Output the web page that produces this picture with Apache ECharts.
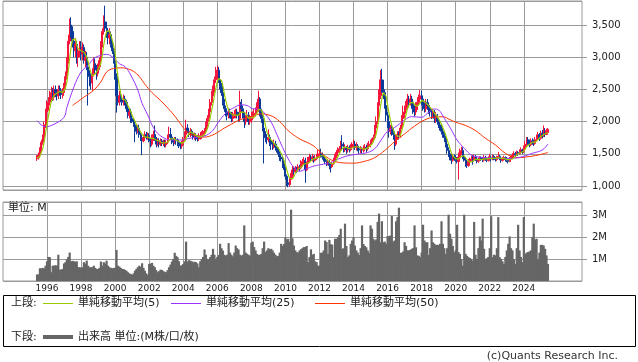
<!DOCTYPE html>
<html><head><meta charset="utf-8">
<script src="https://cdn.jsdelivr.net/npm/echarts@6/dist/echarts.min.js"></script>
<style>html,body{margin:0;padding:0;background:#fff}#c{width:638px;height:362px}</style>
</head><body><div id="c"></div>
<script>
// ---- axis / tick labels ----
const yearTicks = ['1996','1998','2000','2002','2004','2006','2008','2010','2012','2014','2016','2018','2020','2022','2024'];
const axisFirstMonth = [1993, 6];   // left edge of plot
const axisLastMonth  = [2027, 6];   // right edge of plot
const dataFirstMonth = '1995/06';

// ---- monthly prices (1995/06 .. 2025/06) ----
const opens = [
 1420,1440,1480,1560,1680,1750,1950,
 2150,2250,2300,2400,2450,2380,2500,2450,2400,2500,2480,2420,
 2450,2550,2700,2950,3250,3500,3400,3250,3100,3200,3000,3100,
 3150,3050,3150,2950,3000,2850,2700,2650,2600,2750,2900,2800,
 2750,2850,2950,3200,3400,3550,3450,3400,3300,3350,3200,3100,
 2950,2700,2400,2300,2400,2350,2300,2350,2300,2200,2100,2150,
 2050,2000,1950,1900,1850,1900,1800,1750,1700,1750,1800,1760,
 1780,1700,1650,1750,1800,1720,1650,1700,1650,1700,1660,1680,
 1640,1680,1760,1800,1760,1700,1680,1720,1700,1680,1650,1620,
 1640,1720,1800,1900,1850,1800,1850,1820,1760,1780,1750,1730,
 1770,1780,1800,1820,1850,1950,2050,2150,2300,2400,2500,2650,
 2750,2800,2650,2550,2450,2300,2200,2150,2100,2150,2100,2050,
 2100,2120,2150,2100,2050,2300,2200,2100,2000,2050,2100,2000,
 2050,2080,2100,2130,2150,2200,2350,2150,2050,1900,1800,1750,
 1720,1750,1700,1650,1620,1650,1600,1580,1500,1450,1420,1350,
 1300,1150,1050,1020,1100,1150,1250,1220,1280,1250,1300,1280,
 1350,1380,1400,1250,1350,1400,1450,1420,1450,1400,1430,1460,
 1480,1500,1480,1450,1420,1380,1350,1380,1320,1300,1350,1400,
 1470,1520,1550,1580,1650,1620,1580,1600,1560,1600,1570,1600,
 1620,1650,1600,1620,1580,1560,1580,1560,1590,1600,1580,1620,
 1650,1680,1700,1750,1900,2000,2250,2400,2650,2500,2450,2250,
 2100,2000,1850,1900,1850,1800,1650,1750,1800,1780,1900,2050,
 2150,2180,2250,2350,2300,2350,2300,2200,2150,2250,2300,2350,
 2400,2350,2250,2200,2300,2250,2200,2150,2100,2150,2050,2100,
 2000,1950,1900,1850,1800,1750,1650,1550,1500,1450,1400,1450,
 1420,1400,1380,1450,1500,1550,1450,1400,1350,1320,1380,1400,
 1420,1400,1450,1420,1380,1400,1430,1420,1400,1440,1420,1400,
 1430,1440,1420,1460,1430,1410,1440,1460,1430,1400,1420,1440,
 1410,1400,1380,1420,1440,1480,1500,1480,1520,1500,1540,1560,
 1530,1580,1650,1720,1680,1640,1700,1680,1660,1720,1760,1800,
 1740,1820,1780,1850,1800,1830
];
const closes = [
 1440,1480,1560,1680,1750,1950,2150,
 2250,2300,2400,2450,2380,2500,2450,2400,2500,2480,2420,2450,
 2550,2700,2950,3250,3500,3400,3250,3100,3200,3000,3100,3150,
 3050,3150,2950,3000,2850,2700,2650,2600,2750,2900,2800,2750,
 2850,2950,3200,3400,3550,3450,3400,3300,3350,3200,3100,2950,
 2700,2400,2300,2400,2350,2300,2350,2300,2200,2100,2150,2050,
 2000,1950,1900,1850,1900,1800,1750,1700,1750,1800,1760,1780,
 1700,1650,1750,1800,1720,1650,1700,1650,1700,1660,1680,1640,
 1680,1760,1800,1760,1700,1680,1720,1700,1680,1650,1620,1640,
 1720,1800,1900,1850,1800,1850,1820,1760,1780,1750,1730,1770,
 1780,1800,1820,1850,1950,2050,2150,2300,2400,2500,2650,2750,
 2800,2650,2550,2450,2300,2200,2150,2100,2150,2100,2050,2100,
 2120,2150,2100,2050,2300,2200,2100,2000,2050,2100,2000,2050,
 2080,2100,2130,2150,2200,2350,2150,2050,1900,1800,1750,1720,
 1750,1700,1650,1620,1650,1600,1580,1500,1450,1420,1350,1300,
 1150,1050,1020,1100,1150,1250,1220,1280,1250,1300,1280,1350,
 1380,1400,1250,1350,1400,1450,1420,1450,1400,1430,1460,1480,
 1500,1480,1450,1420,1380,1350,1380,1320,1300,1350,1400,1470,
 1520,1550,1580,1650,1620,1580,1600,1560,1600,1570,1600,1620,
 1650,1600,1620,1580,1560,1580,1560,1590,1600,1580,1620,1650,
 1680,1700,1750,1900,2000,2250,2400,2650,2500,2450,2250,2100,
 2000,1850,1900,1850,1800,1650,1750,1800,1780,1900,2050,2150,
 2180,2250,2350,2300,2350,2300,2200,2150,2250,2300,2350,2400,
 2350,2250,2200,2300,2250,2200,2150,2100,2150,2050,2100,2000,
 1950,1900,1850,1800,1750,1650,1550,1500,1450,1400,1450,1420,
 1400,1380,1450,1500,1550,1450,1400,1350,1320,1380,1400,1420,
 1400,1450,1420,1380,1400,1430,1420,1400,1440,1420,1400,1430,
 1440,1420,1460,1430,1410,1440,1460,1430,1400,1420,1440,1410,
 1400,1380,1420,1440,1480,1500,1480,1520,1500,1540,1560,1530,
 1580,1650,1720,1680,1640,1700,1680,1660,1720,1760,1800,1740,
 1820,1780,1850,1800,1860,1880
];
const lows = [
 1390,1410,1450,1530,1640,1720,1900,
 2100,2170,2250,2330,2320,2330,2380,2330,2350,2400,2350,2360,
 2400,2500,2650,2900,3200,3300,3150,3000,3000,2900,2850,3000,
 2950,2950,2900,2850,2800,2250,2550,2500,2480,2700,2750,2650,
 2700,2800,2900,3150,3350,3400,3300,3200,3200,3150,3050,2900,
 2650,2140,2250,2250,2300,2250,2250,2250,2150,2050,2050,1980,
 1980,1920,1680,1800,1820,1750,1700,1480,1680,1720,1720,1720,
 1680,1600,1620,1700,1700,1600,1620,1600,1620,1620,1620,1600,
 1600,1650,1740,1720,1650,1620,1650,1640,1620,1590,1570,1580,
 1620,1700,1780,1820,1760,1760,1780,1720,1720,1700,1690,1700,
 1720,1730,1760,1780,1820,1900,2000,2100,2250,2350,2450,2600,
 2650,2600,2500,2400,2250,2150,2080,2020,2050,2050,1990,2000,
 2050,2050,2050,2000,2000,2150,2050,1900,1950,2000,1950,1950,
 1980,2020,2050,2080,2120,2150,2080,1980,1850,1350,1680,1650,
 1680,1620,1560,1560,1580,1550,1520,1450,1390,1380,1280,1250,
 1100,1000,980,990,1080,1120,1180,1200,1200,1220,1230,1260,
 1300,1340,1050,1230,1320,1370,1380,1380,1360,1380,1400,1420,
 1440,1440,1410,1380,1340,1310,1320,1260,1210,1280,1330,1390,
 1430,1480,1510,1540,1560,1520,1530,1500,1520,1520,1540,1560,
 1580,1560,1550,1540,1500,1510,1510,1520,1540,1520,1550,1590,
 1600,1640,1680,1720,1850,1960,2200,2350,2450,2350,2200,2000,
 1900,1750,1800,1780,1720,1560,1620,1720,1720,1750,1880,2000,
 2050,2120,2200,2220,2250,2200,2120,2080,2100,2180,2250,2300,
 2250,2170,2140,2150,2180,2120,2080,2040,2050,1980,1980,1950,
 1900,1860,1800,1750,1680,1600,1500,1450,1400,1340,1380,1390,
 1380,1350,1100,1420,1480,1420,1380,1300,1280,1300,1360,1380,
 1330,1380,1390,1350,1360,1380,1390,1370,1380,1390,1370,1380,
 1390,1380,1400,1400,1380,1390,1420,1400,1360,1380,1400,1380,
 1370,1350,1370,1400,1420,1460,1450,1470,1470,1490,1520,1500,
 1510,1550,1620,1640,1600,1620,1640,1620,1640,1700,1740,1700,
 1720,1740,1760,1760,1790,1810
];
const highs = [
 1480,1520,1600,1720,1800,2000,2200,
 2330,2380,2480,2540,2520,2560,2560,2500,2560,2560,2520,2520,
 2600,2780,3000,3350,3600,3620,3480,3300,3300,3250,3180,3250,
 3250,3230,3200,3100,3080,2900,2800,2750,2830,3000,2980,2880,
 2900,3000,3250,3450,3650,3800,3550,3450,3450,3400,3250,3150,
 3000,2750,2480,2480,2480,2400,2420,2400,2340,2250,2200,2200,
 2150,2050,2000,1950,1950,1950,1830,1800,1800,1850,1840,1830,
 1820,1750,1800,1860,1940,1760,1740,1740,1740,1730,1720,1720,
 1720,1800,1920,1900,1800,1740,1760,1760,1740,1720,1680,1700,
 1760,1850,2030,1960,1900,1900,1880,1840,1830,1820,1790,1820,
 1840,1850,1870,1900,2000,2100,2200,2350,2480,2560,2700,2850,
 2870,2850,2700,2600,2500,2350,2250,2200,2200,2200,2150,2150,
 2180,2200,2200,2150,2480,2350,2250,2150,2100,2180,2150,2100,
 2150,2160,2200,2220,2300,2480,2380,2200,2100,1950,1850,1800,
 1880,1800,1750,1700,1720,1700,1650,1600,1540,1500,1450,1400,
 1320,1180,1100,1130,1200,1310,1290,1310,1300,1340,1330,1400,
 1420,1450,1440,1380,1450,1500,1480,1500,1470,1480,1500,1560,
 1560,1580,1520,1480,1440,1400,1420,1400,1350,1380,1440,1500,
 1560,1600,1620,1700,1790,1680,1650,1620,1640,1630,1650,1680,
 1720,1700,1680,1650,1620,1620,1600,1630,1650,1640,1670,1700,
 1720,1740,1800,1950,2080,2300,2500,2800,2820,2650,2500,2300,
 2150,2050,1950,1950,1900,1850,1800,1850,1850,1950,2100,2250,
 2250,2320,2430,2400,2430,2400,2350,2250,2300,2380,2420,2490,
 2480,2400,2300,2350,2350,2300,2250,2200,2200,2180,2150,2120,
 2050,2000,1950,1900,1850,1780,1700,1600,1530,1500,1500,1490,
 1480,1450,1520,1580,1610,1600,1490,1450,1400,1420,1440,1470,
 1480,1490,1480,1440,1440,1460,1460,1440,1480,1470,1440,1460,
 1500,1470,1490,1480,1450,1470,1530,1480,1450,1450,1470,1460,
 1450,1430,1450,1470,1510,1540,1530,1550,1540,1570,1600,1580,
 1630,1700,1760,1760,1720,1740,1740,1720,1760,1800,1840,1820,
 1860,1870,1940,1900,1890,1900
];
// ---- moving averages ----
const ma5 = [
 1430,1440,1460,1520,1580,1680,1820,
 1960,2080,2210,2310,2360,2410,2440,2440,2450,2470,2450,2450,
 2480,2520,2610,2780,2990,3160,3270,3300,3290,3190,3130,3110,
 3100,3090,3080,3060,3000,2930,2830,2760,2710,2720,2740,2760,
 2810,2850,2910,3030,3190,3310,3400,3420,3410,3340,3270,3180,
 3060,2870,2690,2550,2430,2350,2340,2340,2300,2250,2220,2160,
 2100,2050,2010,1950,1920,1880,1840,1800,1780,1760,1750,1760,
 1760,1740,1730,1740,1720,1710,1720,1700,1680,1670,1680,1670,
 1670,1680,1710,1730,1740,1740,1730,1710,1700,1690,1670,1660,
 1660,1690,1740,1780,1810,1840,1840,1820,1800,1790,1770,1760,
 1760,1770,1780,1800,1840,1890,1960,2060,2170,2280,2400,2520,
 2620,2670,2680,2640,2550,2430,2330,2240,2180,2140,2110,2100,
 2100,2100,2100,2100,2140,2160,2150,2130,2130,2090,2050,2040,
 2060,2070,2070,2100,2130,2190,2200,2180,2130,2050,1930,1840,
 1780,1740,1710,1690,1670,1640,1620,1590,1560,1510,1460,1400,
 1330,1250,1170,1120,1090,1110,1150,1200,1230,1260,1270,1290,
 1310,1340,1330,1350,1360,1370,1370,1410,1420,1430,1430,1440,
 1450,1470,1470,1470,1450,1420,1400,1370,1350,1340,1350,1370,
 1410,1460,1500,1550,1580,1600,1610,1600,1590,1580,1590,1590,
 1610,1610,1620,1610,1600,1590,1580,1570,1580,1580,1590,1610,
 1630,1650,1680,1740,1810,1920,2060,2240,2360,2450,2450,2390,
 2260,2130,2020,1940,1880,1810,1790,1770,1760,1780,1860,1940,
 2010,2110,2200,2250,2290,2310,2300,2260,2250,2240,2250,2290,
 2330,2330,2310,2300,2270,2240,2220,2200,2170,2130,2110,2080,
 2050,2000,1960,1900,1850,1790,1720,1650,1580,1510,1470,1440,
 1420,1410,1420,1430,1460,1470,1470,1450,1410,1380,1370,1370,
 1380,1410,1420,1410,1410,1420,1410,1410,1420,1420,1420,1420,
 1430,1420,1430,1440,1430,1430,1440,1430,1430,1430,1430,1420,
 1410,1410,1410,1410,1420,1440,1460,1480,1500,1510,1520,1530,
 1540,1570,1610,1630,1650,1680,1680,1670,1680,1700,1720,1740,
 1770,1780,1800,1800,1820,1830
];
const ma25 = [
 ['1995/06',2015],['1995/12',1920],['1996/06',1960],['1997/01',2068],['1997/03',2220],['1997/08',2540],
 ['1998/01',2771],['1998/06',2875],['1998/10',2980],['1999/03',3030],['1999/07',3045],['1999/11',3005],
 ['2000/04',2900],['2000/08',2853],['2000/12',2724],['2001/05',2490],['2001/08',2284],['2001/12',2103],
 ['2002/03',1947],['2002/07',1818],['2002/12',1740],['2003/05',1714],['2004/01',1714],['2004/05',1740],
 ['2004/10',1756],['2005/04',1776],['2005/09',1843],['2005/11',1896],['2006/03',2030],['2006/08',2150],
 ['2007/01',2220],['2007/06',2260],['2007/10',2250],['2008/02',2200],['2008/07',2190],['2008/11',2110],
 ['2009/03',1990],['2009/07',1800],['2009/11',1600],['2010/03',1420],['2010/07',1290],['2010/11',1230],
 ['2011/03',1260],['2011/09',1310],['2012/04',1340],['2012/09',1365],['2013/02',1417],['2013/09',1469],
 ['2014/04',1495],['2014/11',1521],['2015/04',1580],['2015/08',1700],['2016/01',1850],['2016/06',1910],
 ['2017/01',2025],['2017/06',2077],['2018/01',2067],['2018/05',2129],['2018/10',2196],['2019/01',2180],
 ['2019/05',2051],['2019/10',1870],['2020/02',1714],['2020/07',1585],['2020/12',1481],['2021/04',1455],
 ['2021/09',1440],['2022/07',1430],['2023/04',1430],['2023/12',1455],['2024/07',1508],['2025/02',1559],
 ['2025/06',1650]
];
const ma50 = [
 ['1997/07',2250],['1998/03',2380],['1998/10',2490],['1999/03',2620],['1999/07',2770],['1999/12',2825],
 ['2000/05',2835],['2000/09',2825],['2001/02',2780],['2001/06',2700],['2001/10',2580],['2002/03',2450],
 ['2002/08',2350],['2002/12',2260],['2003/05',2140],['2003/10',2000],['2004/02',1880],['2004/06',1810],
 ['2004/11',1770],['2005/04',1760],['2005/09',1785],['2006/01',1830],['2006/06',1900],['2006/11',1960],
 ['2007/04',2020],['2007/10',2060],['2008/03',2095],['2008/08',2120],['2008/12',2110],['2009/05',2068],
 ['2009/10',1980],['2010/02',1880],['2010/07',1790],['2010/12',1720],['2011/04',1680],['2011/09',1620],
 ['2012/01',1540],['2012/06',1450],['2012/11',1390],['2013/05',1360],['2014/01',1355],['2014/09',1385],
 ['2015/03',1430],['2015/08',1500],['2016/01',1590],['2016/06',1690],['2017/01',1810],['2017/08',1930],
 ['2018/03',2025],['2018/10',2070],['2019/04',2075],['2019/09',2030],['2020/01',1990],['2020/08',1940],
 ['2021/03',1860],['2021/10',1740],['2022/05',1637],['2022/12',1508],['2023/05',1455],['2023/09',1440],
 ['2024/04',1455],['2024/11',1481],['2025/06',1520]
];
// ---- monthly volume, millions ----
const volumes = [
 0.30,0.30,0.58,0.58,0.60,0.58,0.70,
 0.90,1.10,1.09,0.40,0.70,0.70,0.72,0.70,1.20,0.52,0.52,0.55,
 0.80,0.86,1.00,1.10,1.30,0.90,0.92,0.90,0.88,0.90,0.63,0.63,
 0.60,0.63,0.86,0.80,0.93,0.70,0.63,0.63,0.63,0.70,0.60,0.55,
 0.55,0.60,0.89,0.70,0.86,0.80,0.93,0.70,0.63,0.60,0.58,0.60,
 0.60,1.42,0.70,0.66,0.60,0.55,0.55,0.50,0.47,0.40,0.35,0.32,
 0.28,0.35,0.47,0.55,0.63,0.70,0.65,0.81,0.60,0.47,0.35,0.28,
 0.78,0.80,0.83,0.70,0.63,0.50,0.40,0.45,0.52,0.50,0.45,0.42,
 0.40,0.50,0.63,0.75,0.89,1.00,1.29,1.15,1.09,0.90,0.70,0.72,
 0.78,0.90,1.80,0.89,0.95,0.93,0.90,0.86,0.88,0.86,0.80,0.63,
 0.90,1.00,1.10,1.44,1.20,1.01,1.00,1.09,1.20,1.47,1.20,1.01,
 1.10,1.19,1.70,1.50,1.39,1.20,1.16,1.20,1.73,1.30,1.20,1.13,
 1.30,1.62,1.50,1.44,1.20,1.16,1.20,2.54,1.30,1.24,1.20,1.16,
 1.75,1.80,1.55,1.40,1.24,1.19,1.20,1.24,1.50,1.80,1.32,1.40,
 1.50,1.45,1.47,1.40,1.29,1.20,1.13,1.15,1.30,1.70,1.60,1.69,
 2.00,1.90,1.93,1.80,3.26,1.95,1.62,1.40,1.32,1.30,1.40,1.45,
 1.50,1.55,1.55,1.60,0.86,1.10,1.45,1.20,1.24,0.90,0.86,0.70,
 0.70,1.29,1.30,1.40,1.85,1.78,1.24,1.88,1.68,1.66,1.09,1.93,
 1.93,2.00,2.10,2.39,1.47,1.50,2.62,1.60,1.09,1.17,1.70,1.85,
 2.00,1.62,1.40,1.30,1.19,1.50,2.54,1.69,1.60,1.54,1.40,1.29,
 2.54,2.39,1.93,1.85,1.90,2.70,3.08,1.77,2.73,1.77,1.80,1.70,
 2.05,2.05,2.08,2.97,1.80,1.85,2.73,2.92,3.35,1.29,1.29,1.35,
 1.77,1.60,1.40,1.40,1.42,1.47,1.50,2.54,1.54,1.17,1.15,1.09,
 1.30,2.57,1.85,1.77,1.77,1.19,1.50,2.31,1.77,1.70,1.65,1.65,
 1.65,1.70,2.73,1.70,1.50,1.24,1.50,3.03,2.16,1.93,1.60,1.32,
 1.40,2.57,1.32,1.24,1.00,0.70,3.03,1.24,1.15,1.09,1.05,1.01,
 0.93,2.70,1.20,1.01,1.50,2.04,1.85,2.85,1.47,1.01,1.04,1.10,
 1.50,2.96,1.09,1.20,1.17,1.50,2.92,1.09,1.01,0.90,0.78,1.10,
 1.40,1.70,2.04,1.50,1.40,1.00,0.78,1.50,2.57,1.40,1.10,0.86,
 2.92,1.24,1.30,1.32,1.35,1.40,2.00,2.62,1.90,1.93,1.01,1.30,
 1.65,1.65,1.62,1.47,1.17,0.78
];

// ---- build monthly category axis ----
const months = [];
{
  let y = axisFirstMonth[0], m = axisFirstMonth[1];
  while (y < axisLastMonth[0] || (y === axisLastMonth[0] && m <= axisLastMonth[1])) {
    months.push(y + '/' + String(m).padStart(2, '0'));
    m++; if (m > 12) { m = 1; y++; }
  }
}
const off = months.indexOf(dataFirstMonth);
const pick = (arr) => months.map((_, i) => {
  const k = i - off;
  return (k >= 0 && k < arr.length) ? arr[k] : '-';
});
const candleData = months.map((_, i) => {
  const k = i - off;
  if (k < 0 || k >= closes.length) return ['-', '-', '-', '-'];
  return [opens[k], closes[k], lows[k], highs[k]];
});
const volData = pick(volumes);
const ma5Data = pick(ma5);

const isYearTick = (i, v) => v.slice(5) === '01' && yearTicks.indexOf(v.slice(0, 4)) >= 0;

const FONT = '"DejaVu Sans","Noto Sans CJK JP",sans-serif';
const GRID = '#9a9a9a';
const UP = '#f5143c', DOWN = '#0c3a9a';

const chart = echarts.init(document.getElementById('c'), null, { renderer: 'canvas' });
chart.setOption({
  animation: false,
  backgroundColor: '#fff',
  grid: [
    { left: 3, width: 579, top: 1, height: 189, show: true, borderColor: GRID, borderWidth: 1 },
    { left: 3, width: 579, top: 202, height: 79, show: true, borderColor: GRID, borderWidth: 1 }
  ],
  xAxis: [
    { type: 'category', gridIndex: 0, data: months, boundaryGap: false,
      axisLine: { show: false }, axisTick: { show: false }, axisLabel: { show: false },
      splitLine: { show: true, interval: isYearTick, lineStyle: { color: GRID, width: 1 } } },
    { type: 'category', gridIndex: 1, data: months, boundaryGap: false,
      axisLine: { show: false }, axisTick: { show: false },
      axisLabel: { show: true, interval: isYearTick, formatter: v => v.slice(0, 4),
        fontFamily: FONT, fontSize: 9, color: '#222', margin: 3 },
      splitLine: { show: true, interval: isYearTick, lineStyle: { color: GRID, width: 1 } } }
  ],
  yAxis: [
    { type: 'value', gridIndex: 0, position: 'right', min: 938, max: 3873, splitNumber: 6,
      axisLine: { show: false },
      axisTick: { show: true, length: 5, lineStyle: { color: GRID } },
      axisLabel: { showMinLabel: false, showMaxLabel: false, margin: 10,
        formatter: v => Number(v).toLocaleString('en-US'), fontFamily: FONT, fontSize: 10, color: '#222' },
      splitLine: { show: true, lineStyle: { color: GRID, width: 1 } } },
    { type: 'value', gridIndex: 1, position: 'right', min: 0, max: 3.61, splitNumber: 4,
      axisLine: { show: false },
      axisTick: { show: true, length: 5, lineStyle: { color: GRID } },
      axisLabel: { showMinLabel: false, showMaxLabel: false, margin: 10,
        formatter: v => v + 'M', fontFamily: FONT, fontSize: 10, color: '#222' },
      splitLine: { show: true, lineStyle: { color: GRID, width: 1 } } }
  ],
  series: [
    { type: 'candlestick', name: 'price', xAxisIndex: 0, yAxisIndex: 0, data: candleData,
      barWidth: 1.6,
      itemStyle: { color: UP, color0: DOWN, borderColor: UP, borderColor0: DOWN, borderWidth: 1 } },
    { type: 'line', name: '単純移動平均(50)', xAxisIndex: 0, yAxisIndex: 0, data: ma50, symbol: 'none',
      smooth: 0.4, lineStyle: { color: '#ff3300', width: 1 }, z: 3 },
    { type: 'line', name: '単純移動平均(25)', xAxisIndex: 0, yAxisIndex: 0, data: ma25, symbol: 'none',
      smooth: 0.4, lineStyle: { color: '#9933ff', width: 1 }, z: 3 },
    { type: 'line', name: '単純移動平均(5)', xAxisIndex: 0, yAxisIndex: 0, data: ma5Data, symbol: 'none',
      lineStyle: { color: '#99cc00', width: 1.2 }, z: 4 },
    { type: 'bar', name: '出来高', xAxisIndex: 1, yAxisIndex: 1, data: volData,
      barWidth: 2.2, itemStyle: { color: '#666666' } }
  ],
  graphic: [
    { type: 'text', x: 8, y: 208, style: { text: '単位: M', font: '11px ' + FONT, fill: '#222', verticalAlign: 'middle' } },
    { type: 'rect', shape: { x: 3.5, y: 295.5, width: 632, height: 51 }, style: { fill: 'none', stroke: '#000', lineWidth: 1 } },
    { type: 'text', x: 11, y: 303, style: { text: '上段:', font: '11px ' + FONT, fill: '#222', verticalAlign: 'middle' } },
    { type: 'line', shape: { x1: 43, y1: 303.5, x2: 73, y2: 303.5 }, style: { stroke: '#99cc00', lineWidth: 1 } },
    { type: 'text', x: 78, y: 303, style: { text: '単純移動平均(5)', font: '11px ' + FONT, fill: '#222', verticalAlign: 'middle' } },
    { type: 'line', shape: { x1: 171, y1: 303.5, x2: 201, y2: 303.5 }, style: { stroke: '#9933ff', lineWidth: 1 } },
    { type: 'text', x: 206, y: 303, style: { text: '単純移動平均(25)', font: '11px ' + FONT, fill: '#222', verticalAlign: 'middle' } },
    { type: 'line', shape: { x1: 315, y1: 303.5, x2: 345, y2: 303.5 }, style: { stroke: '#ff3300', lineWidth: 1 } },
    { type: 'text', x: 350, y: 303, style: { text: '単純移動平均(50)', font: '11px ' + FONT, fill: '#222', verticalAlign: 'middle' } },
    { type: 'text', x: 11, y: 337, style: { text: '下段:', font: '11px ' + FONT, fill: '#222', verticalAlign: 'middle' } },
    { type: 'line', shape: { x1: 43, y1: 337, x2: 73, y2: 337 }, style: { stroke: '#666666', lineWidth: 4 } },
    { type: 'text', x: 78, y: 337, style: { text: '出来高 単位:(M株/口/枚)', font: '11px ' + FONT, fill: '#222', verticalAlign: 'middle' } },
    { type: 'text', x: 618, y: 356, style: { text: '(c)Quants Research Inc.', font: '11px ' + FONT, fill: '#333', align: 'right', verticalAlign: 'middle' } }
  ]
});
</script>
</body></html>
